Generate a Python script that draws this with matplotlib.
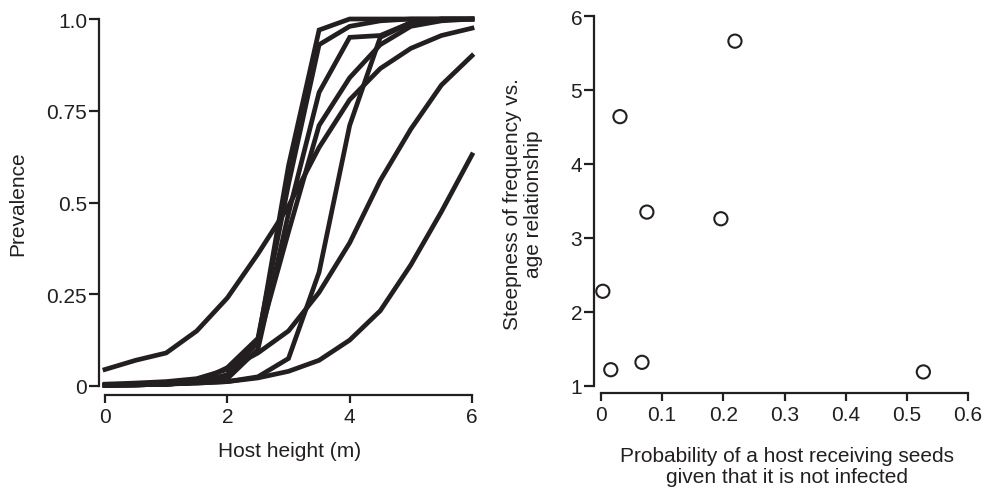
import matplotlib
matplotlib.use("Agg")
import matplotlib.pyplot as plt
import numpy as np

plt.rcParams['font.family'] = ['Liberation Sans', 'DejaVu Sans']

# left panel: prevalence vs host height, one curve per population
height = [0, 0.5, 1, 1.5, 2, 2.5, 3, 3.5, 4, 4.5, 5, 5.5, 6]
curve_a = [0.002, 0.003, 0.005, 0.01, 0.03, 0.12, 0.60, 0.97, 1.0, 1.0, 1.0, 1.0, 1.0]
curve_b = [0.002, 0.003, 0.005, 0.01, 0.05, 0.13, 0.55, 0.93, 0.98, 0.995, 1.0, 1.0, 1.0]
curve_c = [0.002, 0.003, 0.005, 0.01, 0.02, 0.10, 0.47, 0.80, 0.95, 0.955, 0.99, 1.0, 1.0]
curve_d = [0.002, 0.003, 0.005, 0.01, 0.03, 0.12, 0.42, 0.71, 0.84, 0.93, 0.98, 0.995, 1.0]
curve_e = [0.002, 0.003, 0.005, 0.008, 0.012, 0.025, 0.075, 0.31, 0.71, 0.95, 0.99, 1.0, 1.0]
curve_f = [0.045, 0.07, 0.09, 0.15, 0.24, 0.36, 0.49, 0.65, 0.78, 0.865, 0.92, 0.955, 0.975]
curve_g = [0.005, 0.008, 0.012, 0.02, 0.045, 0.09, 0.15, 0.255, 0.39, 0.56, 0.70, 0.82, 0.90]
curve_h = [0.003, 0.004, 0.006, 0.008, 0.012, 0.022, 0.04, 0.07, 0.125, 0.205, 0.33, 0.475, 0.63]
curves = [curve_a, curve_b, curve_c, curve_d, curve_e, curve_f, curve_g, curve_h]

# right panel: steepness vs probability of receiving seeds
prob_seeds = [0.003, 0.016, 0.031, 0.067, 0.075, 0.196, 0.219, 0.527]
steepness = [2.28, 1.22, 4.64, 1.32, 3.35, 3.26, 5.66, 1.19]

ink = '#231f20'
fs = 15
fig = plt.figure(figsize=(9.87, 4.89), dpi=100)

def style_axes(ax, xb, yb, out_x, out_y):
    for s in ['top', 'right']:
        ax.spines[s].set_visible(False)
    ax.spines['left'].set_position(('outward', out_y))
    ax.spines['bottom'].set_position(('outward', out_x))
    ax.spines['left'].set_bounds(*yb)
    ax.spines['bottom'].set_bounds(*xb)
    for s in ['left', 'bottom']:
        ax.spines[s].set_linewidth(1.6)
        ax.spines[s].set_color(ink)
    ax.tick_params(axis='y', length=7, width=1.6, pad=1.5, labelsize=fs, colors=ink)
    ax.tick_params(axis='x', length=6, width=1.6, pad=2.5, labelsize=fs, colors=ink)

ax1 = fig.add_axes([105/987, 1-387/489, 367/987, 367/489])
for c in curves:
    ax1.plot(height, c, color=ink, lw=3.4, clip_on=False, solid_joinstyle='miter')
ax1.set_xlim(0, 6)
ax1.set_ylim(0, 1)
ax1.set_xticks([0, 2, 4, 6])
ax1.set_yticks([0, 0.25, 0.5, 0.75, 1.0])
ax1.set_yticklabels(['0', '0.25', '0.5', '0.75', '1.0'])
style_axes(ax1, (0, 6), (0, 1), 6.5, 4.3)

ax2 = fig.add_axes([601/987, 1-387/489, 367/987, 370/489])
ax2.scatter(prob_seeds, steepness, s=90, facecolors='none', edgecolors=ink,
            linewidths=1.5, clip_on=False, zorder=3)
ax2.set_xlim(0, 0.6)
ax2.set_ylim(1, 6)
ax2.set_xticks([0, 0.1, 0.2, 0.3, 0.4, 0.5, 0.6])
ax2.set_xticklabels(['0', '0.1', '0.2', '0.3', '0.4', '0.5', '0.6'])
ax2.set_yticks([1, 2, 3, 4, 5, 6])
style_axes(ax2, (0, 0.6), (1, 6), 5, 5)

# axis titles placed in figure pixels to follow the reference
W, H = 987, 489
fig.text(290/W, 1-452/H, 'Host height (m)', fontsize=fs, color=ink,
         ha='center', va='center')
fig.text(18/W, 1-204/H, 'Prevalence', fontsize=fs, color=ink,
         ha='center', va='center', rotation=90)
fig.text(787/W, 1-467/H, 'Probability of a host receiving seeds\ngiven that it is not infected',
         fontsize=fs, color=ink, ha='center', va='center', multialignment='center',
         linespacing=1.1)
fig.text(523/W, 1-204/H, 'Steepness of frequency vs.\nage relationship',
         fontsize=fs, color=ink, ha='center', va='center', multialignment='center',
         rotation=90, linespacing=1.1)

fig.savefig('out.png', dpi=100)
